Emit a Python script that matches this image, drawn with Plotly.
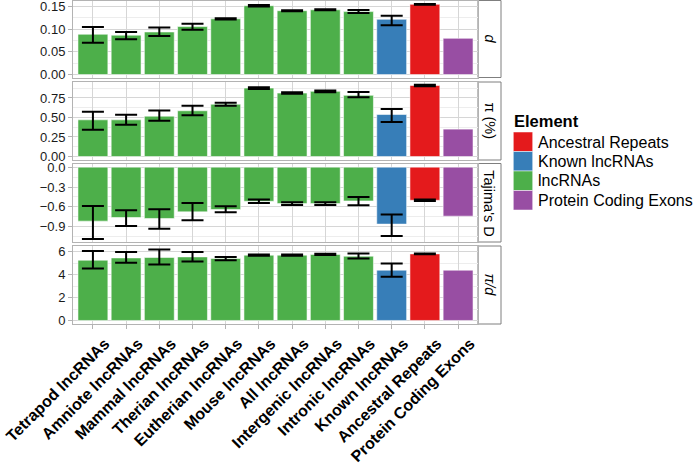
import plotly.graph_objects as go

categories = ["Tetrapod lncRNAs", "Amniote lncRNAs", "Mammal lncRNAs", "Therian lncRNAs",
              "Eutherian lncRNAs", "Mouse lncRNAs", "All lncRNAs", "Intergenic lncRNAs",
              "Intronic lncRNAs", "Known lncRNAs", "Ancestral Repeats", "Protein Coding Exons"]
element = ["lncRNAs"] * 9 + ["Known lncRNAs", "Ancestral Repeats", "Protein Coding Exons"]

legend_order = ["Ancestral Repeats", "Known lncRNAs", "lncRNAs", "Protein Coding Exons"]
element_colors = {"Ancestral Repeats": "#E41A1C", "Known lncRNAs": "#377EB8",
                  "lncRNAs": "#4DAF4A", "Protein Coding Exons": "#984EA3"}

NA = None
d_val = [0.089, 0.087, 0.094, 0.106, 0.123, 0.152, 0.141, 0.143, 0.139, 0.122, 0.155, 0.080]
d_lo = [0.070, 0.078, 0.085, 0.099, 0.1215, 0.1505, 0.140, 0.142, 0.136, 0.109, 0.154, NA]
d_hi = [0.105, 0.094, 0.104, 0.112, 0.1245, 0.1535, 0.142, 0.144, 0.1425, 0.130, 0.156, NA]

pi_val = [0.47, 0.47, 0.517, 0.586, 0.67, 0.877, 0.813, 0.835, 0.784, 0.538, 0.91, 0.351]
pi_lo = [0.342, 0.406, 0.458, 0.53, 0.65, 0.865, 0.803, 0.825, 0.76, 0.441, 0.90, NA]
pi_hi = [0.573, 0.535, 0.59, 0.65, 0.69, 0.889, 0.823, 0.845, 0.826, 0.608, 0.92, NA]

tajd_val = [-0.815, -0.76, -0.775, -0.675, -0.64, -0.515, -0.55, -0.55, -0.51, -0.86, -0.50, -0.74]
tajd_lo = [-1.085, -0.89, -0.93, -0.80, -0.68, -0.54, -0.57, -0.57, -0.575, -1.04, -0.51, NA]
tajd_hi = [-0.585, -0.65, -0.635, -0.54, -0.59, -0.49, -0.53, -0.53, -0.45, -0.715, -0.49, NA]

pid_val = [5.26, 5.46, 5.5, 5.55, 5.41, 5.70, 5.70, 5.76, 5.61, 4.39, 5.81, 4.39]
pid_lo = [4.54, 5.03, 4.89, 5.15, 5.26, 5.65, 5.65, 5.72, 5.41, 3.81, 5.77, NA]
pid_hi = [6.07, 5.98, 6.19, 5.98, 5.55, 5.76, 5.76, 5.82, 5.84, 4.97, 5.85, NA]

panel_labels = ["<i>d</i>", "π (%)", "Tajima's D", "<i>π/d</i>"]

panels = [
    dict(val=d_val, lo=d_lo, hi=d_hi, rng=[-0.0065, 0.1635], dtick=0.05, minor=0.025, fmt=".2f"),
    dict(val=pi_val, lo=pi_lo, hi=pi_hi, rng=[-0.045, 0.955], dtick=0.25, minor=0.125, fmt=".2f"),
    dict(val=tajd_val, lo=tajd_lo, hi=tajd_hi, rng=[-1.13, 0.055], dtick=0.3, minor=0.15, fmt=".1f"),
    dict(val=pid_val, lo=pid_lo, hi=pid_hi, rng=[-0.31, 6.5], dtick=2, minor=1, fmt="d"),
]

W, H = 697, 463
FONT = "Liberation Sans, Arial, Helvetica, sans-serif"
PX0, PX1 = 73, 478
STRIP1 = 501
panel_px = [(0.5, 77.5), (82, 160), (163.5, 242), (246, 324)]


def px(x):
    return x / W


def py(y):
    return 1 - y / H


fig = go.Figure()
layout = dict(width=W, height=H, margin=dict(l=0, r=0, t=0, b=0, autoexpand=False),
              paper_bgcolor="white", plot_bgcolor="white", showlegend=False,
              font=dict(family=FONT, color="#1a1a1a"))
shapes, annotations = [], []
bar_colors = [element_colors[e] for e in element]

for i, p in enumerate(panels):
    k = "" if i == 0 else str(i + 1)
    fig.add_trace(go.Bar(
        x=categories, y=p["val"], xaxis="x" + k, yaxis="y" + k, width=0.9,
        marker=dict(color=bar_colors, line=dict(color="rgba(255,255,255,0.55)", width=1)),
    ))
    # error bars only where an interval exists
    ex = [c for c, l in zip(categories, p["lo"]) if l is not None]
    ev = [v for v, l in zip(p["val"], p["lo"]) if l is not None]
    eplus = [h - v for v, h in zip(p["val"], p["hi"]) if h is not None]
    eminus = [v - l for v, l in zip(p["val"], p["lo"]) if l is not None]
    fig.add_trace(go.Scatter(
        x=ex, y=ev, xaxis="x" + k, yaxis="y" + k, mode="markers",
        marker=dict(size=1, color="rgba(0,0,0,0)"), hoverinfo="skip",
        error_y=dict(type="data", symmetric=False, array=eplus, arrayminus=eminus,
                     color="black", thickness=2, width=11),
    ))
    top, bot = panel_px[i]
    bottom_panel = i == len(panels) - 1
    layout["xaxis" + k] = dict(
        domain=[px(PX0), px(PX1)], anchor="y" + k, type="category",
        categoryorder="array", categoryarray=categories, range=[-0.6, 11.6],
        showgrid=True, gridcolor="#d6d6d6", gridwidth=1,
        showline=True, mirror=True, linecolor="#b3b3b3", linewidth=1,
        showticklabels=bottom_panel, ticks="outside" if bottom_panel else "",
        ticklen=4, tickcolor="#b3b3b3", tickangle=-45, automargin=False,
        ticklabeloverflow="allow", ticklabelstandoff=-1, ticklabelshift=12,
        tickfont=dict(family=FONT, size=16, color="black", weight="bold"),
        zeroline=False, fixedrange=True,
    )
    layout["yaxis" + k] = dict(
        domain=[py(bot), py(top)], anchor="x" + k, range=p["rng"],
        dtick=p["dtick"], tick0=0, tickformat=p["fmt"], automargin=False,
        ticklabeloverflow="allow",
        showgrid=True, gridcolor="#d6d6d6", gridwidth=1,
        minor=dict(dtick=p["minor"], tick0=0, showgrid=True, gridcolor="#ededed", gridwidth=1),
        showline=True, mirror=True, linecolor="#b3b3b3", linewidth=1,
        ticks="outside", ticklen=4, tickcolor="#b3b3b3",
        tickfont=dict(family=FONT, size=13, color="#1a1a1a"),
        zeroline=False, fixedrange=True,
    )
    # facet strip
    shapes.append(dict(type="rect", xref="paper", yref="paper",
                       x0=px(PX1), x1=px(STRIP1), y0=py(bot), y1=py(top),
                       line=dict(color="#7f7f7f", width=1), fillcolor="white", layer="below"))
    annotations.append(dict(text=panel_labels[i], xref="paper", yref="paper",
                            x=px((PX1 + STRIP1) / 2), y=py((top + bot) / 2),
                            showarrow=False, textangle=90,
                            font=dict(family=FONT, size=14.5, color="black"),
                            xanchor="center", yanchor="middle"))

# legend (drawn as layout decoration)
annotations.append(dict(text="<b>Element</b>", xref="paper", yref="paper",
                        x=px(512), y=py(120.5), xanchor="left", yanchor="middle",
                        showarrow=False, font=dict(family=FONT, size=16.5, color="black")))
for j, name in enumerate(legend_order):
    y0 = 132 + j * 19.5
    shapes.append(dict(type="rect", xref="paper", yref="paper",
                       x0=px(513.3), x1=px(532.7), y0=py(y0 + 19.5), y1=py(y0),
                       line=dict(color="white", width=0.5), fillcolor=element_colors[name]))
    annotations.append(dict(text=name, xref="paper", yref="paper",
                            x=px(535.5), y=py(y0 + 10), xanchor="left", yanchor="middle",
                            showarrow=False, font=dict(family=FONT, size=16, color="black")))

layout["shapes"] = shapes
layout["annotations"] = annotations
fig.update_layout(**layout)
fig.write_html("out.html", config={"displayModeBar": False},
               post_script="document.body.style.margin='0px';document.body.style.padding='0px';")
